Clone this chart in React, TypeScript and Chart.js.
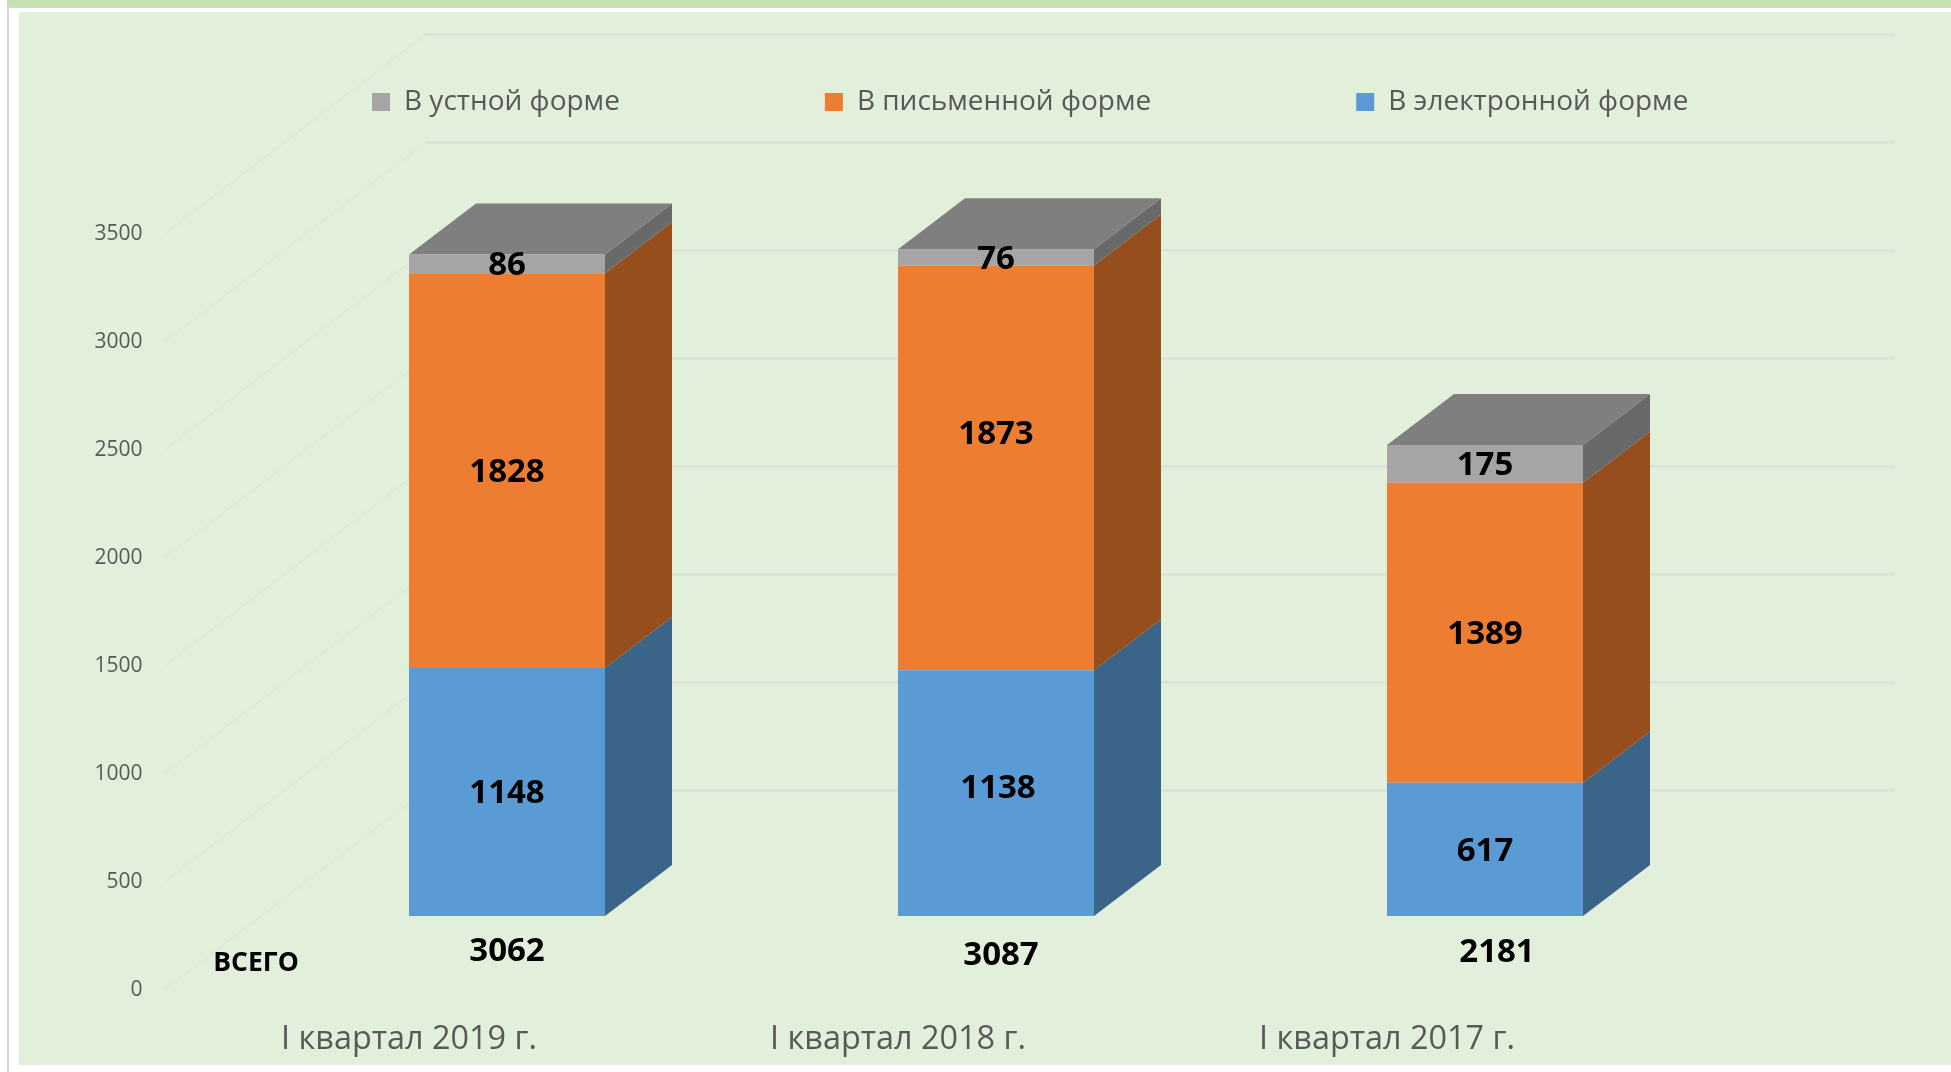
import React, { useEffect, useRef } from "react";
import { Chart, registerables } from "chart.js";

Chart.register(...registerables);

const categories = ["I квартал 2019 г.", "I квартал 2018 г.", "I квартал 2017 г."];
const electronic = [1148, 1138, 617];
const written = [1828, 1873, 1389];
const oral = [86, 76, 175];
const totals = [3062, 3087, 2181];
const totalWord = "ВСЕГО";
const seriesNames = ["В электронной форме", "В письменной форме", "В устной форме"];

const FONT = '"Open Sans"';
const FRONT = ["#5B9BD5", "#ED7D31", "#A5A5A5"];
const SIDE = ["#3A6488", "#974E1D", "#696969"];
const TOP = "#7F7F7F";
const FLOOR_DX = 98;
const FLOOR_DY = 74;
const DEPTH_DX = 67;
const DEPTH_DY = 51;
const WALL_DX = 261;
const WALL_DY = 199.5;
const WALL_RIGHT = 1895;
const GAP = 205;

const scene = {
  id: "scene",
  beforeDraw(chart: any) {
    const { ctx, width, height } = chart;
    ctx.save();
    ctx.fillStyle = "#FFFFFF";
    ctx.fillRect(0, 0, width, height);
    ctx.fillStyle = "#C5E0B3";
    ctx.fillRect(7, 0, width - 7, 7);
    ctx.fillStyle = "#D3D8CF";
    ctx.fillRect(7, 7, width - 7, 1);
    ctx.fillStyle = "#D6D6D6";
    ctx.fillRect(7, 7, 2, height - 7);
    ctx.fillStyle = "#E2EFDA";
    ctx.fillRect(19, 12, width - 19, 1053);
    ctx.restore();
    const lg = chart.legend;
    lg.left = 372 - GAP;
    lg.right = width;
    lg.top = 88 - GAP;
    lg.bottom = 200;
  },
  beforeDatasetsDraw(chart: any) {
    const { ctx, scales } = chart;
    const y = scales.y;
    ctx.save();
    y.ticks.forEach((t: any) => {
      const py = y.getPixelForValue(t.value);
      const x0 = chart.chartArea.left;
      ctx.strokeStyle = "#DFE9DC";
      ctx.lineWidth = 2;
      ctx.beginPath();
      ctx.moveTo(x0, py);
      ctx.lineTo(x0 + WALL_DX, py - WALL_DY);
      ctx.stroke();
      ctx.strokeStyle = "#DDE2DB";
      ctx.lineWidth = 3;
      ctx.beginPath();
      ctx.moveTo(x0 + WALL_DX, py - WALL_DY);
      ctx.lineTo(WALL_RIGHT, py - WALL_DY);
      ctx.stroke();
    });
    ctx.restore();
    ctx.save();
    ctx.translate(FLOOR_DX, -FLOOR_DY);
    // side and top faces are derived from the bars' own geometry
    chart.data.datasets.forEach((_: any, di: number) => {
      chart.getDatasetMeta(di).data.forEach((bar: any) => {
        const r = bar.x + bar.width / 2;
        ctx.fillStyle = SIDE[di];
        ctx.beginPath();
        ctx.moveTo(r, bar.base);
        ctx.lineTo(r + DEPTH_DX, bar.base - DEPTH_DY);
        ctx.lineTo(r + DEPTH_DX, bar.y - DEPTH_DY);
        ctx.lineTo(r, bar.y);
        ctx.closePath();
        ctx.fill();
        if (di === chart.data.datasets.length - 1) {
          const l = bar.x - bar.width / 2;
          ctx.fillStyle = TOP;
          ctx.beginPath();
          ctx.moveTo(l, bar.y);
          ctx.lineTo(l + DEPTH_DX, bar.y - DEPTH_DY);
          ctx.lineTo(r + DEPTH_DX, bar.y - DEPTH_DY);
          ctx.lineTo(r, bar.y);
          ctx.closePath();
          ctx.fill();
        }
      });
    });
  },
  afterDatasetsDraw(chart: any) {
    const { ctx } = chart;
    ctx.fillStyle = "#000000";
    ctx.font = `bold 33px ${FONT}`;
    ctx.textAlign = "center";
    ctx.textBaseline = "middle";
    chart.data.datasets.forEach((ds: any, di: number) => {
      chart.getDatasetMeta(di).data.forEach((bar: any, i: number) => {
        let nx = 0;
        let ny = 2;
        if (i === 1 && di === 1) ny = -33;
        if (i === 1 && di === 0) { nx = 2; ny = -5; }
        ctx.fillText(String(ds.data[i]), bar.x + nx, (bar.y + bar.base) / 2 + ny);
      });
    });
    ctx.restore();
    ctx.save();
    ctx.fillStyle = "#000000";
    ctx.font = `bold 33px ${FONT}`;
    ctx.textAlign = "center";
    ctx.textBaseline = "middle";
    const totalShift = [0, 5, 12];
    const totalY = [952, 955.5, 952.5];
    chart.getDatasetMeta(0).data.forEach((bar: any, i: number) => {
      ctx.fillText(String(totals[i]), bar.x + FLOOR_DX + totalShift[i], totalY[i]);
    });
    ctx.font = `bold 26.5px ${FONT}`;
    ctx.fillText(totalWord, 256, 963);
    ctx.restore();
  },
};

export default function App() {
  const ref = useRef<HTMLCanvasElement>(null);
  useEffect(() => {
    const chart = new Chart(ref.current as HTMLCanvasElement, {
      type: "bar",
      data: {
        labels: categories,
        datasets: [
          { label: seriesNames[0], data: electronic, backgroundColor: FRONT[0] },
          { label: seriesNames[1], data: written, backgroundColor: FRONT[1] },
          { label: seriesNames[2], data: oral, backgroundColor: FRONT[2] },
        ],
      },
      options: {
        responsive: false,
        animation: false,
        layout: { padding: { left: 0, right: 319.5, top: 194, bottom: 0 } },
        datasets: { bar: { barPercentage: 0.4008, categoryPercentage: 1 } },
        plugins: {
          tooltip: { enabled: false },
          legend: {
            position: "top",
            align: "start",
            maxHeight: 40,
            reverse: true,
            labels: {
              boxWidth: 18,
              boxHeight: 18,
              padding: GAP,
              color: "#595959",
              font: { family: FONT, size: 28 },
            },
          },
        },
        scales: {
          x: {
            stacked: true,
            grid: { display: false, drawTicks: false },
            border: { display: false },
            afterFit: (s: any) => { s.height = 82; },
            ticks: {
              padding: 30,
              color: "#595959",
              font: { family: FONT, size: 32.4 },
              maxRotation: 0,
            },
          },
          y: {
            stacked: true,
            min: 0,
            max: 3500,
            afterFit: (s: any) => { s.width = 164.5; },
            grid: { display: false, drawTicks: false },
            border: { display: false },
            ticks: {
              stepSize: 500,
              padding: 22,
              color: "#595959",
              font: { family: FONT, size: 21 },
              callback: (v: any) => String(v),
            },
          },
        },
      },
      plugins: [scene],
    } as any);
    return () => chart.destroy();
  }, []);
  return (
    <canvas
      ref={ref}
      width={1951}
      height={1072}
      style={{ position: "fixed", left: 0, top: 0, width: 1951, height: 1072, display: "block" }}
    />
  );
}
